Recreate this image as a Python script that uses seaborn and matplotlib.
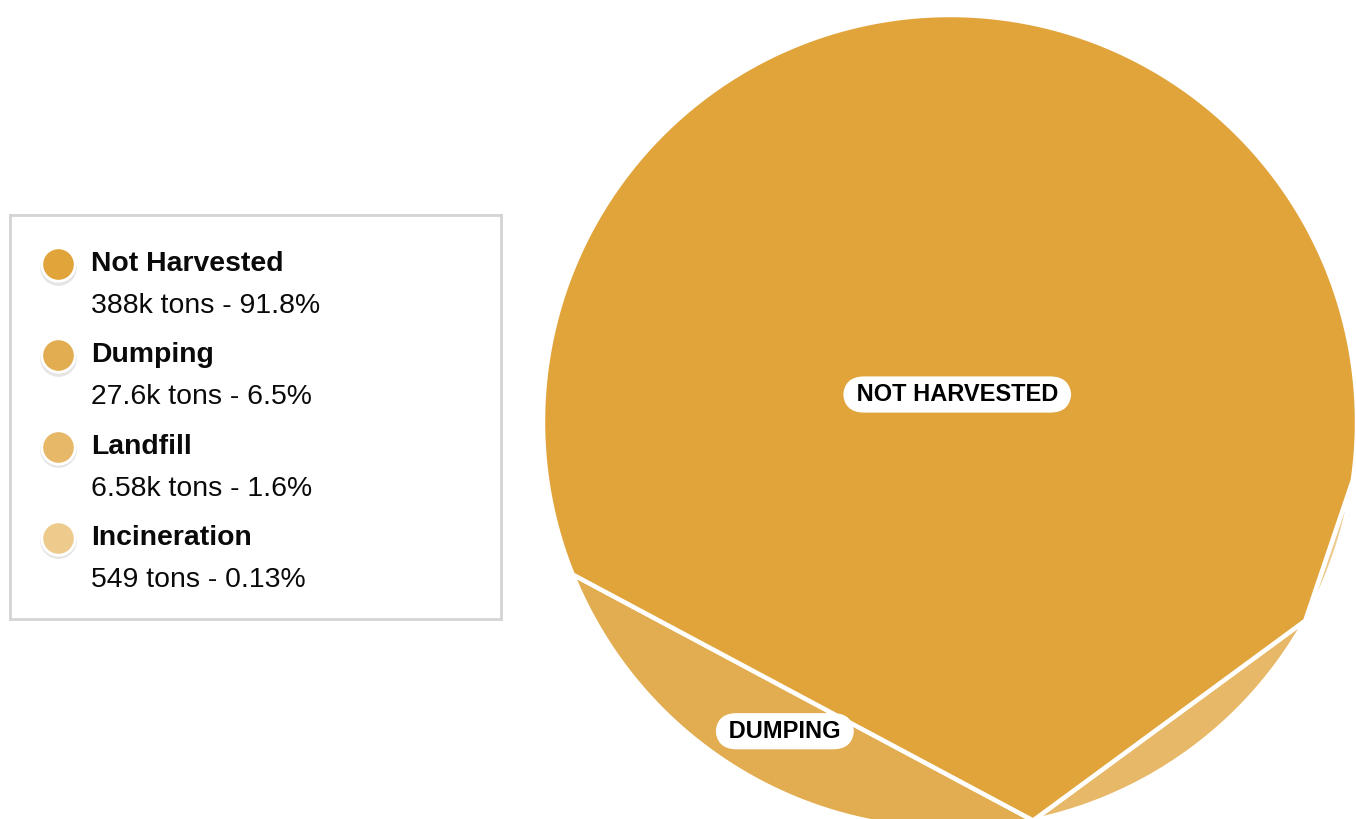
import numpy as np
import matplotlib
matplotlib.use("Agg")
import matplotlib.pyplot as plt
import seaborn as sns

# data
names = ["Not Harvested", "Dumping", "Landfill", "Incineration"]
tons = [388000, 27600, 6580, 549]
shares = [91.8, 6.5, 1.6, 0.13]
colors = ["#E0A43B", "#E2AC50", "#E6B867", "#EDCB8D"]

sns.set_theme(style="white")
plt.rcParams["font.family"] = ["Liberation Sans", "DejaVu Sans"]


def fmt_tons(v):
    if v >= 1000:
        return f"{v / 1000:.3g}k tons"
    return f"{v} tons"


def cap_angle(frac):
    # central angle of a circular segment holding `frac` of the disc area
    lo, hi = 0.0, 2 * np.pi
    for _ in range(60):
        mid = (lo + hi) / 2
        if (mid - np.sin(mid)) / (2 * np.pi) < frac:
            lo = mid
        else:
            hi = mid
    return lo


def arc(a, b, n=200):
    t = np.radians(np.linspace(a, b, n))
    return np.cos(t), np.sin(t)


fig = plt.figure(figsize=(13.56, 8.19), dpi=100)
fig.patch.set_facecolor("white")

# circle: center (950, 422) px, radius 407 px
W, H = 1356, 819
cx, cy, r = 950, 422, 407
ax = fig.add_axes([(cx - r) / W, (H - cy - r) / H, 2 * r / W, 2 * r / H])
ax.set_xlim(-1, 1)
ax.set_ylim(-1, 1)
ax.set_aspect("equal")
ax.axis("off")

total = sum(shares)
start = 202.0
edges = [start]
for s in shares[1:]:
    edges.append(edges[-1] + np.degrees(cap_angle(s / total)))

# small categories as circular segments along the bottom edge
label_pos = {}
for i in range(1, len(names)):
    a, b = edges[i - 1], edges[i]
    x, y = arc(a, b)
    ax.fill(x, y, color=colors[i], ec="white", lw=3.2, joinstyle="miter")
    th = np.radians(b - a)
    rr = 4 * np.sin(th / 2) ** 3 / (3 * (th - np.sin(th)))  # segment centroid
    m = np.radians((a + b) / 2)
    label_pos[names[i]] = (rr * np.cos(m), rr * np.sin(m))

# main category: rest of the disc
x, y = arc(edges[-1], start + 360)
px = np.concatenate([x, [np.cos(np.radians(e)) for e in edges[1:-1]]])
py = np.concatenate([y, [np.sin(np.radians(e)) for e in edges[1:-1]]])
ax.fill(px, py, color=colors[0], ec="white", lw=3.2, joinstyle="miter")
xs, ys = np.append(px, px[0]), np.append(py, py[0])
cross = xs[:-1] * ys[1:] - xs[1:] * ys[:-1]
area = cross.sum() / 2
gx = ((xs[:-1] + xs[1:]) * cross).sum() / (6 * area)
gy = ((ys[:-1] + ys[1:]) * cross).sum() / (6 * area)
label_pos[names[0]] = (gx, gy)

for name, s in zip(names, shares):
    if s < 5:
        continue
    lx, ly = label_pos[name]
    ax.text(lx, ly, f" {name.upper()} ", ha="center", va="center", fontsize=17,
            fontweight="bold", color="black",
            bbox=dict(boxstyle="round,pad=0.28,rounding_size=0.9",
                      fc="white", ec="none"))

# legend box
lg = fig.add_axes([10 / W, (H - 619) / H, 491 / W, 404 / H])
lg.set_xlim(0, 491)
lg.set_ylim(404, 0)
lg.set_xticks([])
lg.set_yticks([])
for sp in lg.spines.values():
    sp.set_color("#D4D4D4")
    sp.set_linewidth(2)

for i, (name, t, s, c) in enumerate(zip(names, tons, shares, colors)):
    y0 = 49 + i * 91.3
    lg.scatter([48.5], [y0 + 2.5], s=700, color="#000000", alpha=0.10, lw=0)
    lg.scatter([48], [y0], s=580, color=c, edgecolor="white", lw=2)
    lg.text(81, y0, name, fontsize=20.4, fontweight="bold", va="center",
            color="#0A0A0A")
    lg.text(81, y0 + 42, f"{fmt_tons(t)} - {s:g}%", fontsize=20.4,
            va="center", color="#0A0A0A")

fig.savefig("out.png", dpi=100, facecolor="white")
